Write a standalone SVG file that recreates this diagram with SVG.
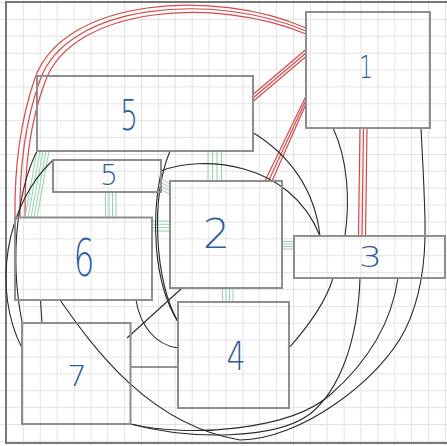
<svg xmlns="http://www.w3.org/2000/svg" width="447" height="446" viewBox="0 0 447 446">
<defs>
<pattern id="grid" x="6" y="2" width="16.88" height="16.88" patternUnits="userSpaceOnUse">
<path d="M0.5 0 V16.88 M0 0.5 H16.88" stroke="#e3e3e3" stroke-width="1" fill="none"/>
</pattern>
<style>
.node rect{fill:none;stroke:#8e8e8e;stroke-width:2}
.node text{font-family:"DejaVu Sans","Liberation Sans",sans-serif;font-weight:200;fill:#2f5d9c;text-anchor:middle}
.red{stroke:#d24a4a;stroke-width:1.2;fill:none}
.grn{stroke:#8fd4a8;stroke-width:1;fill:none}
.blk{stroke:#2a2a2a;stroke-width:1.1;fill:none}
</style>
</defs>
<rect width="447" height="446" fill="#ffffff"/>
<rect width="447" height="446" fill="url(#grid)"/>
<path d="M6 1 V444 M5 2 H447 M5 443 H447" stroke="#777" stroke-width="2" fill="none"/>

<g id="connectors">
<path class="red" d="M306 28 C214 -12 64 -2 35 78 C26 104 14 150 15 218"/>
<path class="red" d="M306 31 C215 -8 68 2 40 80 C31 105 19 150 20 218"/>
<path class="red" d="M306 34 C216 -4 72 6 45 82 C36 106 24 150 25 218"/>
<path class="red" d="M306 49.5 L253 94.5 M306 53 L253 98 M306 56.5 L253 101.5"/>
<path class="red" d="M306 96 L265 181 M306 100 L268.5 181 M306 104 L272 181"/>
<path class="red" d="M360 128 L358.5 236 M363.5 128 L362 236 M367 128 L365.5 236"/>

<path class="grn" d="M208 151 L208 181 M212.5 151 L212.5 181 M217 151 L217 181 M221.5 151 L221.5 181"/>
<path class="grn" d="M37 151 L25 217.5 M40 151 L28 217.5 M43 151 L31 217.5 M46 151 L34 217.5 M49 151 L37 217.5"/>
<path class="grn" d="M105.5 192 V217.5 M109 192 V217.5 M112.5 192 V217.5 M116 192 V217.5"/>
<path class="grn" d="M161 179 L170 184 M161 182.5 L170 187.5 M161 186 L170 191 M161 189.5 L170 194.5"/>
<path class="grn" d="M152 221 H170 M152 224.3 H170 M152 227.6 H170 M152 231 H170"/>
<path class="grn" d="M282 241.5 H294 M282 244 H294 M282 246.5 H294 M282 249 H294"/>
<path class="grn" d="M222.5 288 V302 M226 288 V302 M229.5 288 V302 M233 288 V302"/>

<path class="blk" d="M252 132 C290 155 315 190 320 236"/>
<path class="blk" d="M161 171 C200 155 290 160 320 236"/>
<path class="blk" d="M333 128 C348 160 350 200 345 236"/>
<path class="blk" d="M333 278 C325 305 305 330 288 349"/>
<path class="blk" d="M60 300 C95 350 150 425 240 440 C300 440 380 380 405 330 C420 300 426 260 425 220 C424 180 422 150 421 128"/>
<path class="blk" d="M360 278 C358 340 340 390 310 414 C275 440 190 440 130.5 424"/>
<path class="blk" d="M398 278 C392 320 370 360 330 395 C290 430 190 438 130.5 424"/>
<path class="blk" d="M170 151 C150 200 155 280 178 322"/>
<path class="blk" d="M161 172 C152 215 152 280 178 322"/>
<path class="blk" d="M181 289 L127 338"/>
<path class="blk" d="M136 300 C140 325 155 345 178 348"/>
<path class="blk" d="M130.5 367 H178"/>
<path class="blk" d="M40.5 300 L42 323"/>
<path class="blk" d="M37 151 C20 185 8 250 22 322"/>
<path class="blk" d="M53 160 C5 205 -8 290 22 348"/>
</g>

<g id="node-1" class="node"><rect x="306" y="12" width="124" height="116"/><text x="366" y="78" font-size="32" textLength="14" lengthAdjust="spacingAndGlyphs">1</text></g>
<g id="node-5a" class="node"><rect x="37" y="76" width="216" height="75"/><text x="129" y="130" font-size="43" textLength="18" lengthAdjust="spacingAndGlyphs">5</text></g>
<g id="node-5b" class="node"><rect x="53" y="160" width="108" height="32"/><text x="109" y="184.5" font-size="29" textLength="18" lengthAdjust="spacingAndGlyphs">5</text></g>
<g id="node-6" class="node"><rect x="15" y="217.5" width="137" height="82.5"/><text x="84" y="276" font-size="52" textLength="21" lengthAdjust="spacingAndGlyphs">6</text></g>
<g id="node-2" class="node"><rect x="170" y="181" width="112" height="107"/><text x="216.5" y="248" font-size="41" textLength="27" lengthAdjust="spacingAndGlyphs">2</text></g>
<g id="node-3" class="node"><rect x="294" y="236" width="151" height="42"/><text x="370.5" y="267" font-size="29" textLength="23" lengthAdjust="spacingAndGlyphs">3</text></g>
<g id="node-4" class="node"><rect x="178" y="302" width="111" height="106"/><text x="236" y="370" font-size="39" textLength="19" lengthAdjust="spacingAndGlyphs">4</text></g>
<g id="node-7" class="node"><rect x="22" y="323" width="108.5" height="101"/><text x="77" y="386" font-size="29" textLength="20" lengthAdjust="spacingAndGlyphs">7</text></g>
</svg>
